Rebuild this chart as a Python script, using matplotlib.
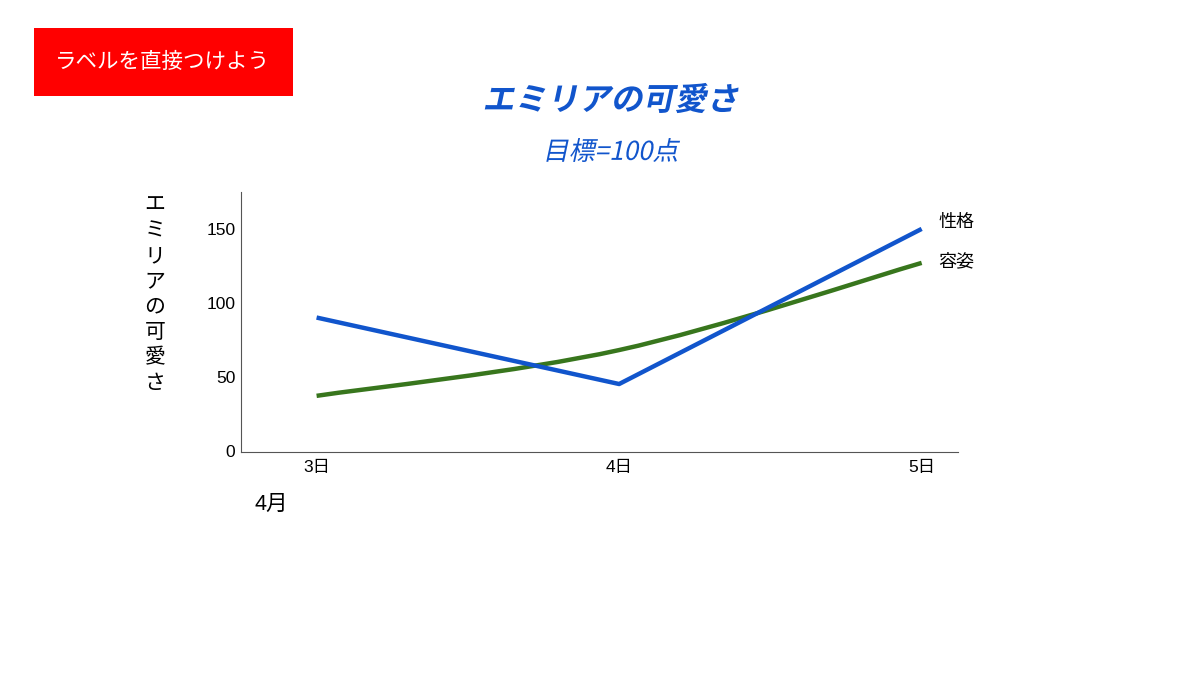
import matplotlib
matplotlib.use("Agg")
import matplotlib.pyplot as plt
from matplotlib.path import Path
from matplotlib.patches import PathPatch, Rectangle
from matplotlib.textpath import TextPath
from matplotlib.font_manager import FontProperties
from matplotlib.transforms import Affine2D, IdentityTransform

plt.rcParams['font.family'] = ['Liberation Sans', 'Noto Sans CJK JP', 'DejaVu Sans']

# data
days = [3, 4, 5]
day_labels = ["3日", "4日", "5日"]
seikaku = [90, 45, 150]
yoshi = [37, 68, 127]
series_names = ["性格", "容姿"]
yticks = [0, 50, 100, 150]

BLUE = "#1155cc"
GREEN = "#38761d"
JP = ['Noto Sans CJK JP', 'DejaVu Sans']


def smooth_path(xs, ys):
    # catmull-rom style bezier through the points
    verts = [(xs[0], ys[0])]
    codes = [Path.MOVETO]
    n = len(xs)
    for i in range(n - 1):
        x0, y0 = (xs[i - 1], ys[i - 1]) if i > 0 else (xs[i], ys[i])
        x1, y1 = xs[i], ys[i]
        x2, y2 = xs[i + 1], ys[i + 1]
        x3, y3 = (xs[i + 2], ys[i + 2]) if i + 2 < n else (xs[i + 1], ys[i + 1])
        c1 = (x1 + (x2 - x0) / 6, y1 + (y2 - y0) / 6)
        c2 = (x2 - (x3 - x1) / 6, y2 - (y3 - y1) / 6)
        verts += [c1, c2, (x2, y2)]
        codes += [Path.CURVE4] * 3
    return Path(verts, codes)


def slanted_text(fig, s, cx, cy, size, weight, color):
    fp = FontProperties(family='Noto Sans CJK JP', weight=weight)
    tp = TextPath((0, 0), s, size=size, prop=fp)
    ext = tp.get_extents()
    h = fig.get_figheight() * fig.dpi
    tr = (Affine2D().translate(-(ext.x0 + ext.x1) / 2, -(ext.y0 + ext.y1) / 2)
          .skew_deg(12, 0).translate(cx, h - cy))
    fig.patches.append(PathPatch(tp, transform=tr + IdentityTransform(),
                                 facecolor=color, edgecolor='none'))


fig = plt.figure(figsize=(12, 6.75), dpi=100)
ax = fig.add_axes([0.2008, 0.3304, 0.5975, 0.3852])

ax.plot(days, seikaku, color=BLUE, lw=3.2, solid_capstyle='butt')
ax.add_patch(PathPatch(smooth_path(days, yoshi), facecolor='none',
                       edgecolor=GREEN, lw=3.2, capstyle='butt'))

ax.set_xlim(2.75, 5.12)
ax.set_ylim(-1, 175)
ax.set_xticks(days)
ax.set_xticklabels(day_labels)
ax.set_yticks(yticks)
ax.tick_params(length=0, labelsize=12.5)
ax.tick_params(axis='y', pad=4)
ax.tick_params(axis='x', pad=6)
ax.spines['top'].set_visible(False)
ax.spines['right'].set_visible(False)
ax.spines['left'].set_color('#555555')
ax.spines['bottom'].set_color('#555555')

# direct labels
ax.text(5.055, seikaku[-1] + 5, series_names[0], fontsize=13, va='center', family=JP)
ax.text(5.055, yoshi[-1] + 1, series_names[1], fontsize=13, va='center', family=JP)

# y label, stacked characters
fig.text(155 / 1200, 1 - 294 / 675, "\n".join("エミリアの可愛さ"),
         fontsize=15, ha='center', va='center', linespacing=1.2, family=JP)
fig.text(271 / 1200, 1 - 504 / 675, "4月", fontsize=15.5, ha='center', va='center')

# red box
fig.patches.append(Rectangle((34 / 1200, 1 - 96 / 675), 259 / 1200, 68 / 675,
                             transform=fig.transFigure, facecolor='#ff0000',
                             edgecolor='none'))
fig.text(162 / 1200, 1 - 62 / 675, "ラベルを直接つけよう", fontsize=15.5,
         color='white', ha='center', va='center', family=JP)

slanted_text(fig, "エミリアの可愛さ", 612, 98, 32, 'bold', BLUE)
slanted_text(fig, "目標=100点", 614, 150, 26, 'normal', BLUE)

fig.savefig("out.png", dpi=100)
